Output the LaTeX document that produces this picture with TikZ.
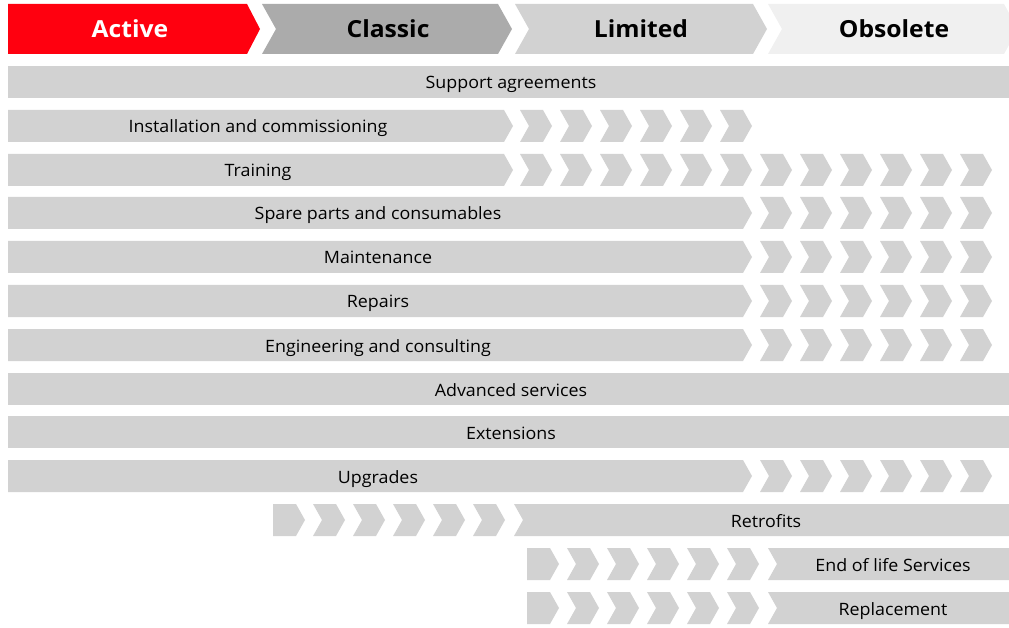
\documentclass[tikz,border=0pt]{standalone}
\usepackage{fontspec}
\setmainfont{Open Sans}[FakeStretch=1.05]
\definecolor{abbred}{HTML}{FF000F}
\definecolor{classicgray}{HTML}{ABABAB}
\definecolor{limitedgray}{HTML}{D2D2D2}
\definecolor{obsoletegray}{HTML}{F0F0F0}
\definecolor{bargray}{HTML}{D2D2D2}
\tikzset{
  bar/.style={fill=bargray},
  lbl/.style={anchor=base, font=\fontsize{17}{19}\selectfont},
  phase/.style={anchor=base, font=\fontsize{23.5}{26}\selectfont\bfseries},
}
% chevron with notch, top-left x and top y
\newcommand{\chev}[2]{\fill[bar] (#1,#2) -- ++(23,0) -- ++(9,16) -- ++(-9,16) -- ++(-23,0) -- ++(9,-16) -- cycle;}
% chevron with flat back
\newcommand{\chevflat}[2]{\fill[bar] (#1,#2) -- ++(23,0) -- ++(9,16) -- ++(-9,16) -- ++(-23,0) -- cycle;}
% bar from the left edge, tip ends at x
\newcommand{\tipbar}[2]{\fill[bar] (8,#2) -- ({#1-9},#2) -- (#1,{#2+16}) -- ({#1-9},{#2+32}) -- (8,{#2+32}) -- cycle;}
% bar with notch, running to the right edge
\newcommand{\notchbar}[2]{\fill[bar] (#1,#2) -- (1009,#2) -- (1009,{#2+32}) -- (#1,{#2+32}) -- ({#1+9},{#2+16}) -- cycle;}
\begin{document}
\begin{tikzpicture}[x=1pt,y=-1pt]
\useasboundingbox (0,0) rectangle (1009,628);
%\draw (0,0) grid (1009,628);
% phases
\fill [abbred] (8,4) -- (247,4) -- (260,29) -- (247,54) -- (8,54) -- cycle;
\fill [classicgray] (262,4) -- (498,4) -- (512,29) -- (498,54) -- (262,54) -- (276,29) -- cycle;
\fill [limitedgray] (515,4) -- (753,4) -- (767,29) -- (753,54) -- (515,54) -- (529,29) -- cycle;
\fill [obsoletegray] (768,4) -- (1004,4) -- (1009,13) -- (1009,45) -- (1004,54) -- (768,54) -- (782,29) -- cycle;
\node [phase, text=white] (active) at (130,38) {Active};
\node [phase] (classic) at (388,38) {Classic};
\node [phase] (limited) at (641,38) {Limited};
\node [phase] (obsolete) at (894,38) {Obsolete};
% full bars
\fill [bar] (8,66) rectangle (1009,98);
\fill [bar] (8,373) rectangle (1009,405);
\fill [bar] (8,416) rectangle (1009,448);
% bars ending at classic
\tipbar{513}{110}
\tipbar{513}{154}
\foreach \x in {520,560,...,720} {\chev{\x}{110}}
\foreach \x in {520,560,...,960} {\chev{\x}{154}}
% bars ending at limited
\foreach \y in {197,241,285,329,460} {
  \tipbar{752}{\y}
  \foreach \x in {760,800,...,960} {\chev{\x}{\y}}
}
% bars starting later
\chevflat{273}{504}
\foreach \x in {313,353,...,473} {\chev{\x}{504}}
\notchbar{514}{504}
\foreach \y in {548,592} {
  \chevflat{527}{\y}
  \foreach \x in {567,607,...,727} {\chev{\x}{\y}}
  \notchbar{768}{\y}
}
% labels
\node [lbl] (support) at (511,89) {Support agreements};
\node [lbl] (install) at (258,133) {Installation and commissioning};
\node [lbl] (training) at (258,177) {Training};
\node [lbl] (spare) at (378,220) {Spare parts and consumables};
\node [lbl] (maint) at (378,264) {Maintenance};
\node [lbl] (repairs) at (378,308) {Repairs};
\node [lbl] (eng) at (378,352) {Engineering and consulting};
\node [lbl] (adv) at (511,396) {Advanced services};
\node [lbl] (ext) at (511,439) {Extensions};
\node [lbl] (upgr) at (378,483) {Upgrades};
\node [lbl] (retro) at (766,527) {Retrofits};
\node [lbl] (eol) at (893,571) {End of life Services};
\node [lbl] (repl) at (893,615) {Replacement};
\end{tikzpicture}
\end{document}
